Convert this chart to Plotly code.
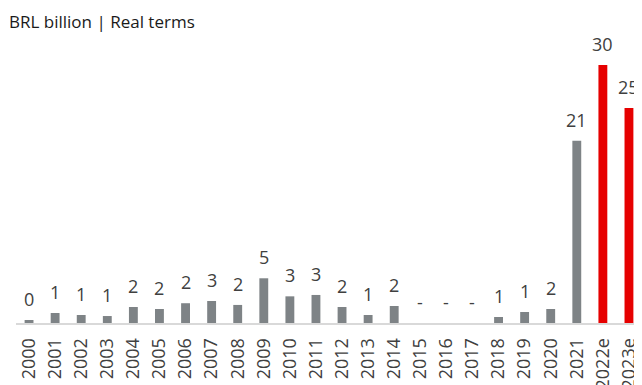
import plotly.graph_objects as go

categories = ["2000","2001","2002","2003","2004","2005","2006","2007","2008","2009",
              "2010","2011","2012","2013","2014","2015","2016","2017","2018","2019",
              "2020","2021","2022e","2023e"]
values = [0.35,1.16,0.93,0.81,1.86,1.63,2.3,2.56,2.1,5.2,
          3.1,3.26,1.86,0.93,1.98,0,0,0,0.7,1.28,
          1.63,21.2,30.0,25.0]
labels = ["0","1","1","1","2","2","2","3","2","5",
          "3","3","2","1","2","-","-","-","1","1",
          "2","21","30","25"]
estimate_flags = [False]*22 + [True, True]

GRAY = "#7e8386"
RED = "#e60000"
colors = [RED if e else GRAY for e in estimate_flags]

fig = go.Figure(go.Bar(
    x=categories, y=values, marker_color=colors, marker_line_width=0,
))

# category axes index categories serially from 0
for i, (v, t) in enumerate(zip(values, labels)):
    fig.add_annotation(
        x=i, y=v, text=t, showarrow=False, yanchor="bottom", yshift=7,
        font=dict(family="Open Sans", size=18, color="#404040"),
    )

fig.update_layout(
    width=634, height=377,
    margin=dict(l=8, r=0, t=22, b=62, autoexpand=False),
    paper_bgcolor="white", plot_bgcolor="white",
    bargap=0.66, showlegend=False,
    font=dict(family="Open Sans"),
)
fig.update_xaxes(
    type="category", tickangle=-90, showgrid=False, automargin=False,
    range=[-0.5, len(categories) - 0.5],
    showline=True, linecolor="#d9d9d9", linewidth=2,
    tickfont=dict(family="Open Sans", size=18, color="#404040"),
    ticks="", ticklabelstandoff=6,
)
fig.update_yaxes(range=[0, 34.07], visible=False, showgrid=False, automargin=False)
fig.add_annotation(
    text="BRL billion | Real terms", xref="paper", yref="paper",
    x=0, y=1, xanchor="left", yanchor="bottom", yshift=-5, showarrow=False,
    xshift=-9, font=dict(family="Open Sans", size=17, color="#1a1a1a"),
)
fig.write_html("out.html")
